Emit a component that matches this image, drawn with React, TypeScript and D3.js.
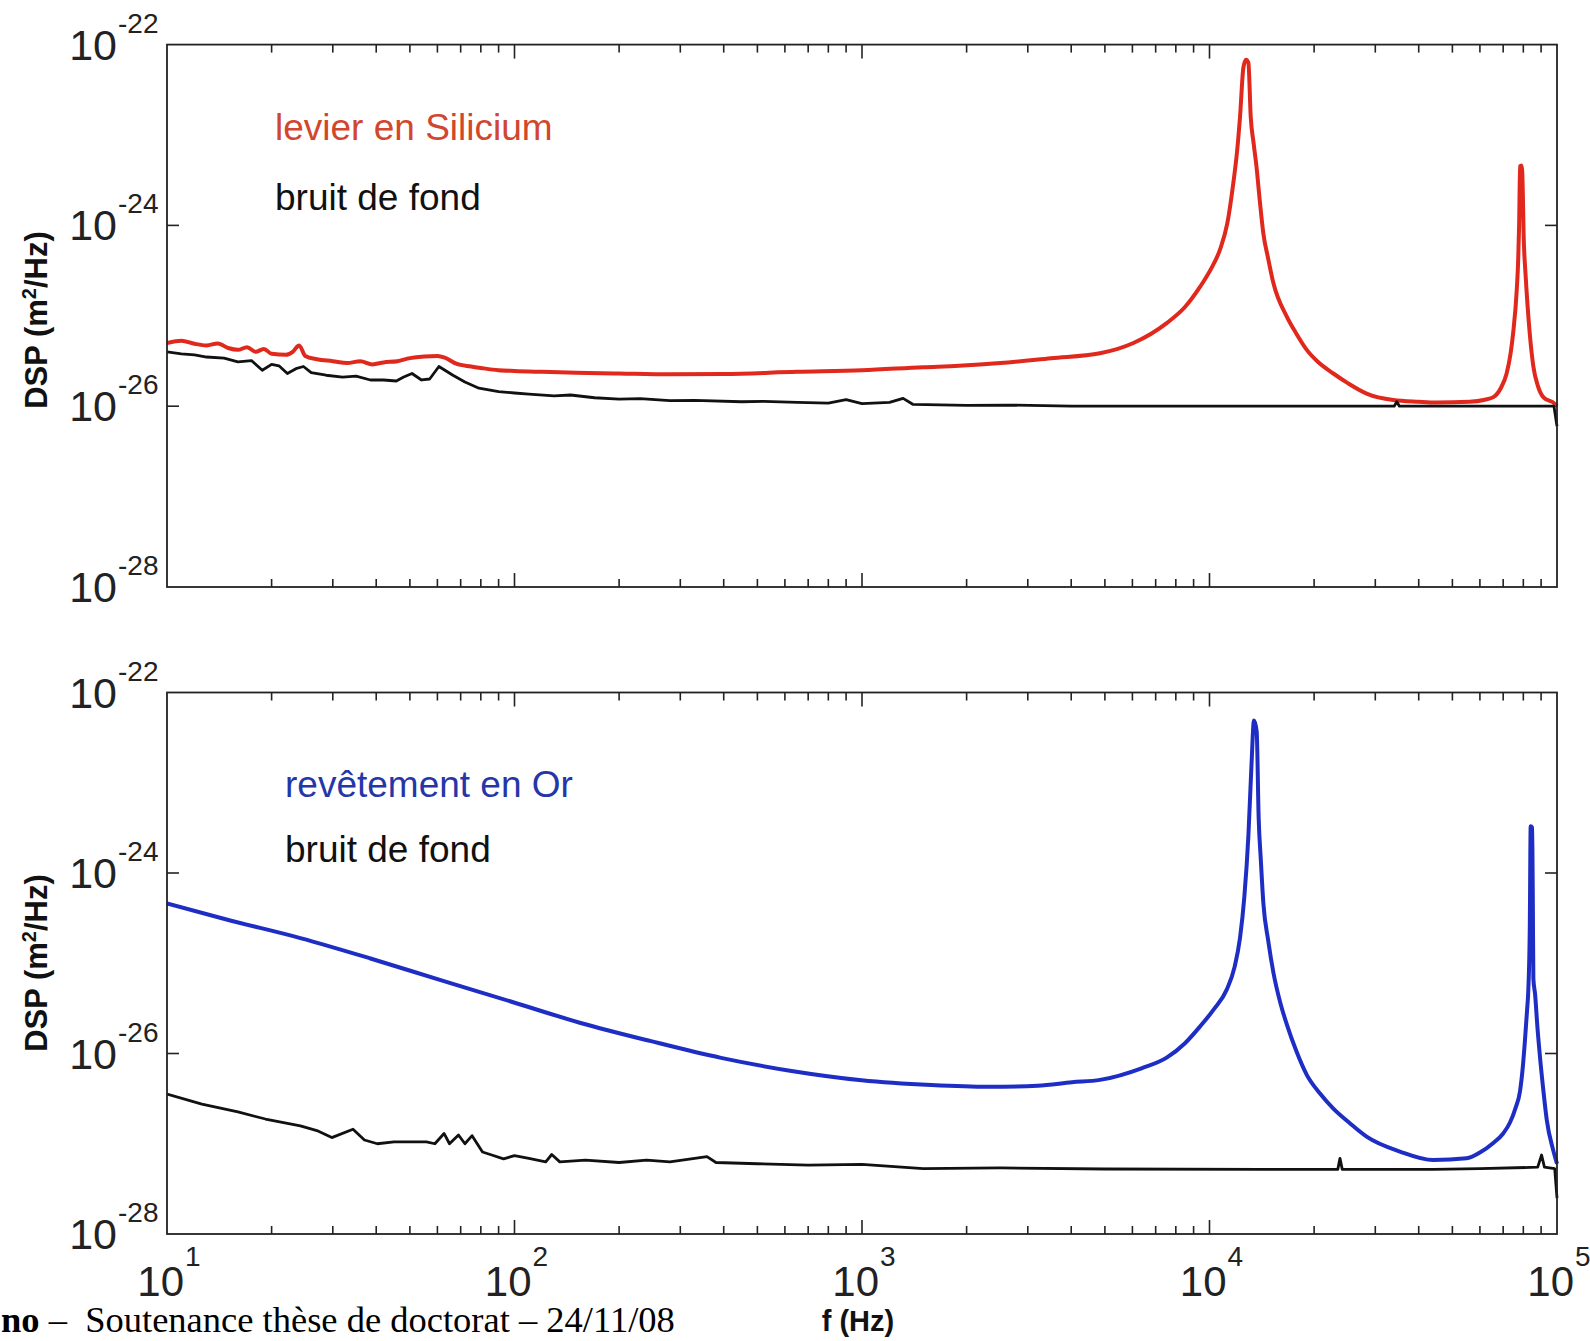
import React from "react";
import * as d3 from "d3";

const W = 1590;
const H = 1341;

// ---------- data (frequency in Hz, DSP in m^2/Hz) ----------
const siFreq = [10, 11, 12, 13, 14, 15, 16, 17, 18, 19, 20, 22, 23, 24, 25, 27, 30, 33, 36, 39, 42, 46, 50, 55, 60, 63, 68, 75, 80, 90, 100, 120, 150, 200, 280, 400, 650, 1000, 1500, 1900, 2500, 3500, 4840, 6040, 7530, 8500, 9400, 10100, 10720, 11250, 11710, 12000, 12240, 12520, 12740, 12940, 13140, 13400, 13650, 13950, 14290, 14750, 15270, 16690, 17800, 19050, 20500, 22720, 25000, 28320, 33800, 40000, 45000, 56000, 62000, 65600, 69000, 71620, 73500, 74800, 76600, 77300, 77800, 78300, 79000, 79400, 80300, 81000, 81800, 83500, 85500, 88000, 91300, 98400, 100000];
const siDsp = [5.0e-26, 5.3e-26, 4.9e-26, 4.7e-26, 4.95e-26, 4.4e-26, 4.2e-26, 4.5e-26, 4.0e-26, 4.3e-26, 3.8e-26, 3.7e-26, 4.0e-26, 4.7e-26, 3.6e-26, 3.3e-26, 3.15e-26, 3.0e-26, 3.15e-26, 2.9e-26, 3.05e-26, 3.15e-26, 3.4e-26, 3.55e-26, 3.6e-26, 3.45e-26, 2.95e-26, 2.75e-26, 2.65e-26, 2.5e-26, 2.45e-26, 2.4e-26, 2.35e-26, 2.3e-26, 2.25e-26, 2.27e-26, 2.4e-26, 2.5e-26, 2.7e-26, 2.8e-26, 3.0e-26, 3.4e-26, 3.85e-26, 5.0e-26, 8.3e-26, 1.25e-25, 2.1e-25, 3.3e-25, 5.4e-25, 1.05e-24, 2.95e-24, 6.5e-24, 1.58e-23, 5.6e-23, 6.8e-23, 6.3e-23, 1.6e-23, 8.0e-24, 4.5e-24, 1.9e-24, 8.1e-25, 4.3e-25, 2.3e-25, 9.8e-26, 6.3e-26, 4.2e-26, 3.1e-26, 2.3e-26, 1.8e-26, 1.38e-26, 1.17e-26, 1.12e-26, 1.1e-26, 1.12e-26, 1.18e-26, 1.26e-26, 1.6e-26, 2.3e-26, 3.8e-26, 6.5e-26, 1.95e-25, 4.0e-25, 1.0e-24, 4.5e-24, 4.6e-24, 4.0e-24, 6.3e-25, 3.3e-25, 1.8e-25, 6.3e-26, 2.75e-26, 1.7e-26, 1.26e-26, 1.07e-26, 1.0e-26];

const bgTopFreq = [10, 11, 12, 13, 14.6, 16, 17.5, 18.8, 20, 21, 22.2, 23.5, 24.7, 26, 28.7, 32, 35, 38.5, 42, 45.7, 48, 50.7, 54, 57, 60.6, 66.5, 72, 79, 90, 100, 110, 130, 145, 170, 200, 230, 280, 330, 450, 520, 653, 800, 900, 1000, 1200, 1313, 1400, 2000, 2600, 4000, 7200, 15000, 34000, 34600, 35200, 60000, 90000, 98000, 100000];
const bgTopDsp = [4.0e-26, 3.8e-26, 3.7e-26, 3.5e-26, 3.4e-26, 3.1e-26, 3.2e-26, 2.5e-26, 2.9e-26, 2.8e-26, 2.3e-26, 2.6e-26, 2.75e-26, 2.35e-26, 2.2e-26, 2.1e-26, 2.15e-26, 1.95e-26, 1.95e-26, 1.9e-26, 2.1e-26, 2.3e-26, 1.95e-26, 2.0e-26, 2.75e-26, 2.2e-26, 1.85e-26, 1.58e-26, 1.45e-26, 1.4e-26, 1.36e-26, 1.3e-26, 1.33e-26, 1.24e-26, 1.2e-26, 1.21e-26, 1.15e-26, 1.16e-26, 1.12e-26, 1.13e-26, 1.1e-26, 1.08e-26, 1.18e-26, 1.07e-26, 1.1e-26, 1.22e-26, 1.05e-26, 1.02e-26, 1.03e-26, 1.0e-26, 1.0e-26, 1.0e-26, 1.0e-26, 1.12e-26, 1.0e-26, 1.0e-26, 1.0e-26, 1.0e-26, 6.0e-27];

const auFreq = [10, 15.2, 24.2, 38.5, 61.3, 97.6, 155, 247, 393, 627, 997, 1585, 2300, 3200, 4020, 4840, 6400, 7530, 8500, 9400, 10300, 11210, 11800, 12240, 12600, 12940, 13200, 13430, 13670, 13850, 14050, 14290, 14750, 15270, 16000, 16690, 17800, 19050, 20800, 22720, 25300, 28320, 35320, 44030, 54950, 60000, 65560, 70000, 73240, 76000, 78240, 79700, 80850, 82000, 82700, 83500, 84000, 84800, 85200, 85500, 86500, 87800, 89400, 91300, 93400, 97500, 100000];
const auDsp = [4.6e-25, 2.98e-25, 1.9e-25, 1.13e-25, 6.5e-26, 3.77e-26, 2.18e-26, 1.37e-26, 8.95e-27, 6.4e-27, 5.05e-27, 4.47e-27, 4.27e-27, 4.4e-27, 4.8e-27, 5.1e-27, 6.9e-27, 9.0e-27, 1.3e-26, 2.0e-26, 3.1e-26, 5.1e-26, 9.0e-26, 1.9e-25, 5.5e-25, 2.6e-24, 1.5e-23, 4.9e-23, 3.7e-23, 4.1e-24, 1.4e-24, 4.6e-25, 1.8e-25, 7.9e-26, 3.6e-26, 2.1e-26, 1.05e-26, 5.8e-27, 3.6e-27, 2.45e-27, 1.7e-27, 1.2e-27, 8.2e-28, 6.6e-28, 6.9e-28, 8.0e-28, 1.02e-27, 1.3e-27, 1.72e-27, 2.5e-27, 3.8e-27, 7.0e-27, 1.38e-26, 3.0e-26, 5.1e-26, 2.5e-25, 3.3e-24, 3.2e-24, 5.0e-25, 6.8e-26, 4.5e-26, 2.0e-26, 8.9e-27, 4.0e-27, 1.86e-27, 8.5e-28, 6.0e-28];

const bgBotFreq = [10, 12.6, 16, 19.2, 24.2, 27, 29.8, 34.3, 37, 40.3, 45, 55.8, 59, 62.7, 65, 69, 72, 75.5, 80.9, 86, 93, 100, 110, 123, 128, 135, 160, 200, 240, 280, 358, 380, 500, 700, 1000, 1500, 2500, 5000, 14000, 23400, 23740, 24100, 44000, 60000, 88000, 90300, 92000, 98500, 100000];
const bgBotDsp = [3.55e-27, 2.75e-27, 2.25e-27, 1.88e-27, 1.58e-27, 1.4e-27, 1.17e-27, 1.45e-27, 1.1e-27, 1.0e-27, 1.05e-27, 1.05e-27, 1.0e-27, 1.3e-27, 1.0e-27, 1.25e-27, 1.0e-27, 1.23e-27, 8.1e-28, 7.5e-28, 6.8e-28, 7.4e-28, 6.9e-28, 6.3e-28, 7.6e-28, 6.3e-28, 6.6e-28, 6.2e-28, 6.6e-28, 6.3e-28, 7.2e-28, 6.2e-28, 6.0e-28, 5.8e-28, 5.9e-28, 5.3e-28, 5.4e-28, 5.25e-28, 5.2e-28, 5.2e-28, 6.9e-28, 5.2e-28, 5.2e-28, 5.3e-28, 5.5e-28, 7.5e-28, 5.5e-28, 5.3e-28, 2.5e-28];

const yTickExps = [-22, -24, -26, -28];
const xTickExps = [1, 2, 3, 4, 5];
const legendTop = ["levier en Silicium", "bruit de fond"];
const legendBottom = ["revêtement en Or", "bruit de fond"];
const xTitle = "f (Hz)";
const footerBold = "no";
const footerText = " –  Soutenance thèse de doctorat – 24/11/08";

// ---------- layout ----------
const LEFT = 167;
const RIGHT = 1557;
const SANS = "'Liberation Sans', Arial, Helvetica, sans-serif";
const SERIF = "'Liberation Serif', 'Times New Roman', serif";
const RED = "#e0281c";
const BLUE = "#1e2ec4";
const BLACK = "#111111";

const xScale = d3.scaleLog().domain([10, 1e5]).range([LEFT, RIGHT]);

function zip(f: number[], v: number[]): [number, number][] {
  return f.map((d, i) => [d, v[i]] as [number, number]);
}

type PanelProps = {
  id: string;
  top: number;
  bottom: number;
  color: string;
  colored: [number, number][];
  noise: [number, number][];
  legend: string[];
  legendColor: string;
  legendX: number;
  legendY: number[];
  titleY: number;
};

function Panel(p: PanelProps) {
  const y = d3.scaleLog().domain([1e-28, 1e-22]).range([p.bottom, p.top]);
  const smooth = d3
    .line<[number, number]>()
    .x((d) => xScale(d[0]))
    .y((d) => y(d[1]))
    .curve(d3.curveMonotoneX);
  const straight = d3
    .line<[number, number]>()
    .x((d) => xScale(d[0]))
    .y((d) => y(d[1]));

  const minors: number[] = [];
  for (let e = 1; e < 5; e++) {
    for (let k = 2; k <= 9; k++) minors.push(k * Math.pow(10, e));
  }
  const majors = xTickExps.slice(1, -1).map((e) => Math.pow(10, e));

  return (
    <g>
      <defs>
        <clipPath id={p.id}>
          <rect x={LEFT} y={p.top - 2} width={RIGHT - LEFT + 2} height={p.bottom - p.top + 14} />
        </clipPath>
      </defs>
      {minors.map((m, i) => (
        <g key={"mi" + i} stroke="#222" strokeWidth={1.6}>
          <line x1={xScale(m)} x2={xScale(m)} y1={p.bottom} y2={p.bottom - 8} />
          <line x1={xScale(m)} x2={xScale(m)} y1={p.top} y2={p.top + 8} />
        </g>
      ))}
      {majors.map((m, i) => (
        <g key={"ma" + i} stroke="#222" strokeWidth={1.6}>
          <line x1={xScale(m)} x2={xScale(m)} y1={p.bottom} y2={p.bottom - 14} />
          <line x1={xScale(m)} x2={xScale(m)} y1={p.top} y2={p.top + 14} />
        </g>
      ))}
      {yTickExps.slice(1, -1).map((e, i) => {
        const yy = y(Math.pow(10, e));
        return (
          <g key={"yt" + i} stroke="#222" strokeWidth={1.6}>
            <line x1={LEFT} x2={LEFT + 12} y1={yy} y2={yy} />
            <line x1={RIGHT} x2={RIGHT - 12} y1={yy} y2={yy} />
          </g>
        );
      })}
      {yTickExps.map((e, i) => {
        const yy = y(Math.pow(10, e));
        return (
          <g key={"yl" + i} fontFamily={SANS} fill="#222">
            <text x={117} y={yy + 15} fontSize={43} textAnchor="end">10</text>
            <text x={118} y={yy - 12} fontSize={28} textAnchor="start">{"-" + Math.abs(e)}</text>
          </g>
        );
      })}
      <g clipPath={`url(#${p.id})`} fill="none" strokeLinejoin="round">
        <path d={smooth(p.colored) || ""} stroke={p.color} strokeWidth={4} />
        <path d={straight(p.noise) || ""} stroke={BLACK} strokeWidth={2.8} />
      </g>
      <rect x={LEFT} y={p.top} width={RIGHT - LEFT} height={p.bottom - p.top} fill="none" stroke="#222" strokeWidth={1.8} />
      <text x={p.legendX} y={p.legendY[0]} fontFamily={SANS} fontSize={37} fill={p.legendColor}>
        {p.legend[0]}
      </text>
      <text x={p.legendX} y={p.legendY[1]} fontFamily={SANS} fontSize={37} fill="#111">
        {p.legend[1]}
      </text>
      <text
        transform={`translate(47, ${p.titleY}) rotate(-90)`}
        textAnchor="middle"
        fontFamily={SANS}
        fontWeight="bold"
        fontSize={31}
        fill="#111"
      >
        DSP (m
        <tspan fontSize={20} dy={-11}>2</tspan>
        <tspan dy={11}>/Hz)</tspan>
      </text>
    </g>
  );
}

export default function App() {
  const bottomY = 1234;
  return (
    <svg
      width={W}
      height={H}
      viewBox={`0 0 ${W} ${H}`}
      style={{ position: "absolute", left: 0, top: 0, background: "#fff" }}
    >
      <rect x={0} y={0} width={W} height={H} fill="#fff" />
      <Panel
        id="clipTop"
        top={44.6}
        bottom={587}
        color={RED}
        colored={zip(siFreq, siDsp)}
        noise={zip(bgTopFreq, bgTopDsp)}
        legend={legendTop}
        legendColor="#d2462e"
        legendX={275}
        legendY={[140, 210]}
        titleY={320}
      />
      <Panel
        id="clipBot"
        top={692.5}
        bottom={bottomY}
        color={BLUE}
        colored={zip(auFreq, auDsp)}
        noise={zip(bgBotFreq, bgBotDsp)}
        legend={legendBottom}
        legendColor="#2536a8"
        legendX={285}
        legendY={[797, 862]}
        titleY={963}
      />
      {xTickExps.map((e, i) => {
        const xx = xScale(Math.pow(10, e));
        return (
          <g key={"xl" + i} fontFamily={SANS} fill="#222">
            <text x={xx + 17} y={1296} fontSize={42} textAnchor="end">10</text>
            <text x={xx + 18} y={1266} fontSize={28} textAnchor="start">{String(e)}</text>
          </g>
        );
      })}
      <text x={858} y={1331} textAnchor="middle" fontFamily={SANS} fontWeight="bold" fontSize={29} fill="#111">
        {xTitle}
      </text>
      <text x={1} y={1332} fontFamily={SERIF} fontSize={36.5} fill="#000" style={{ whiteSpace: "pre" }}>
        <tspan fontWeight="bold">{footerBold}</tspan>
        <tspan>{footerText}</tspan>
      </text>
    </svg>
  );
}
